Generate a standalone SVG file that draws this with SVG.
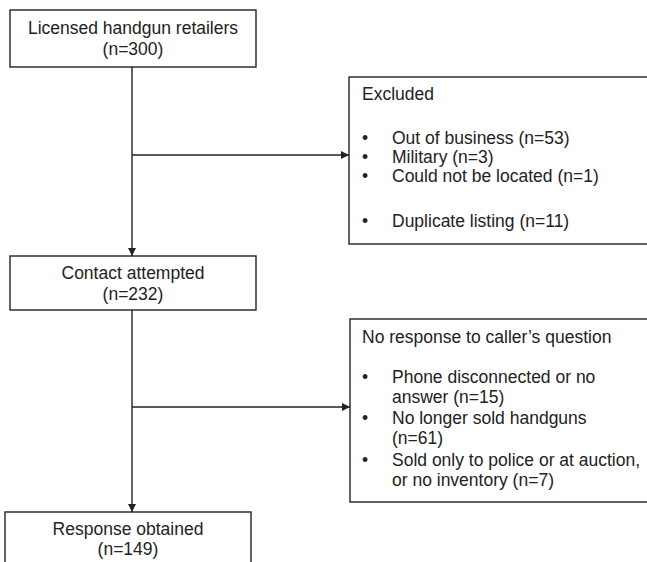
<svg xmlns="http://www.w3.org/2000/svg" width="647" height="562" viewBox="0 0 647 562">
<defs>
<style>
.box{fill:#fff;stroke:#222;stroke-width:1.4}
.t{font-family:"Liberation Sans",Arial,sans-serif;font-size:17.5px;fill:#222}
.c{text-anchor:middle}
.ln{stroke:#222;stroke-width:1.4;fill:none}
</style>
<marker id="ah" viewBox="0 0 10 10" refX="10" refY="5" markerWidth="8" markerHeight="8" markerUnits="userSpaceOnUse" orient="auto">
<path d="M0,0 L10,5 L0,10 z" fill="#222"/>
</marker>
</defs>
<rect width="647" height="562" fill="#fff"/>
<g id="connectors">
<line class="ln" x1="132" y1="67" x2="132" y2="256" marker-end="url(#ah)"/>
<line class="ln" x1="132" y1="155" x2="349" y2="155" marker-end="url(#ah)"/>
<line class="ln" x1="132" y1="310" x2="132" y2="512" marker-end="url(#ah)"/>
<line class="ln" x1="132" y1="407" x2="350" y2="407" marker-end="url(#ah)"/>
</g>
<g id="retailers">
<rect class="box" x="10" y="10" width="246" height="57"/>
<text class="t c" x="133" y="34">Licensed handgun retailers</text>
<text class="t c" x="133" y="55">(n=300)</text>
</g>
<g id="excluded">
<rect class="box" x="349" y="77" width="320" height="167"/>
<text class="t" x="362" y="100">Excluded</text>
<text class="t" x="362" y="144">•</text><text class="t" x="392" y="144">Out of business (n=53)</text>
<text class="t" x="362" y="163">•</text><text class="t" x="392" y="163">Military (n=3)</text>
<text class="t" x="362" y="182">•</text><text class="t" x="392" y="182">Could not be located (n=1)</text>
<text class="t" x="362" y="227">•</text><text class="t" x="392" y="227">Duplicate listing (n=11)</text>
</g>
<g id="contact">
<rect class="box" x="10" y="256" width="246" height="54"/>
<text class="t c" x="133" y="279">Contact attempted</text>
<text class="t c" x="133" y="300">(n=232)</text>
</g>
<g id="noresponse">
<rect class="box" x="350" y="319" width="320" height="183"/>
<text class="t" x="362" y="343">No response to caller’s question</text>
<text class="t" x="362" y="383">•</text><text class="t" x="392" y="383">Phone disconnected or no</text>
<text class="t" x="392" y="403">answer (n=15)</text>
<text class="t" x="362" y="424">•</text><text class="t" x="392" y="424">No longer sold handguns</text>
<text class="t" x="392" y="444">(n=61)</text>
<text class="t" x="362" y="466">•</text><text class="t" x="392" y="466">Sold only to police or at auction,</text>
<text class="t" x="392" y="486">or no inventory (n=7)</text>
</g>
<g id="response">
<rect class="box" x="5" y="512" width="246" height="70"/>
<text class="t c" x="128" y="535">Response obtained</text>
<text class="t c" x="128" y="555">(n=149)</text>
</g>
</svg>
